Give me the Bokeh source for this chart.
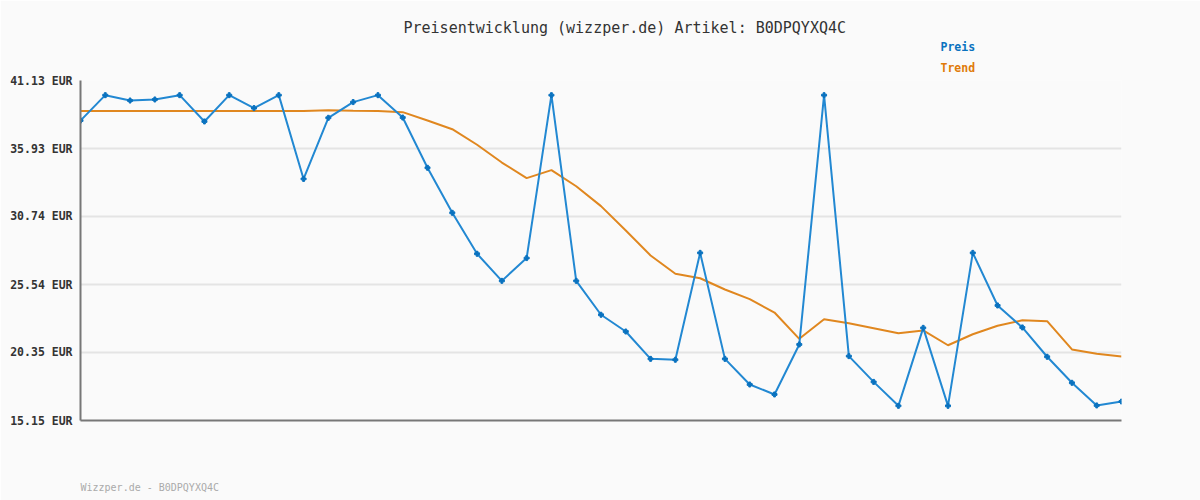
from bokeh.plotting import figure
from bokeh.models import FixedTicker, Range1d, Title
from bokeh.embed import file_html
from bokeh.resources import INLINE

title_text = "Preisentwicklung (wizzper.de) Artikel: B0DPQYXQ4C"
footer_text = "Wizzper.de - B0DPQYXQ4C"
series_names = ["Preis", "Trend"]

preis = [38.07, 40.01, 39.60, 39.68, 40.01, 38.00, 40.01, 39.02, 40.01, 33.61,
         38.28, 39.48, 40.01, 38.30, 34.46, 31.02, 27.89, 25.82, 27.56, 40.01,
         25.82, 23.23, 21.95, 19.86, 19.79, 27.96, 19.86, 17.90, 17.14, 20.96,
         40.01, 20.07, 18.10, 16.27, 22.23, 16.27, 27.96, 23.94, 22.26, 20.02,
         18.03, 16.30, 16.60]
trend = [38.79, 38.79, 38.79, 38.79, 38.79, 38.79, 38.79, 38.79, 38.79, 38.79,
         38.85, 38.82, 38.80, 38.71, 38.07, 37.41, 36.22, 34.86, 33.67, 34.28,
         33.05, 31.53, 29.67, 27.76, 26.36, 26.02, 25.16, 24.42, 23.40, 21.39,
         22.89, 22.58, 22.20, 21.82, 22.03, 20.90, 21.74, 22.39, 22.81, 22.74,
         20.58, 20.25, 20.04]
x_idx = list(range(len(preis)))
y_ticks = [15.15, 20.35, 25.54, 30.74, 35.93, 41.13]
y_tick_labels = ["15.15 EUR", "20.35 EUR", "25.54 EUR", "30.74 EUR", "35.93 EUR", "41.13 EUR"]

BG = "#fafafa"
BLUE = "#2288d2"
BLUE_DARK = "#0a72bf"
ORANGE = "#e0871f"
ORANGE_TXT = "#e07b0a"
MONO = "DejaVu Sans Mono"

p = figure(width=1200, height=500, output_backend="svg", toolbar_location=None,
           x_range=Range1d(0, len(preis) - 1), y_range=Range1d(y_ticks[0], y_ticks[-1]),
           min_border_left=80, min_border_right=79, min_border_top=80, min_border_bottom=80)
p.background_fill_color = BG
p.border_fill_color = BG
p.outline_line_color = None

p.xgrid.visible = False
p.ygrid.ticker = FixedTicker(ticks=y_ticks)
p.ygrid.grid_line_color = "#e4e4e4"
p.ygrid.grid_line_width = 2

p.yaxis.ticker = FixedTicker(ticks=y_ticks)
p.yaxis.major_label_overrides = {t: l for t, l in zip(y_ticks, y_tick_labels)}
p.yaxis.axis_line_color = "#777777"
p.yaxis.axis_line_width = 2
p.yaxis.major_tick_line_color = None
p.yaxis.major_tick_out = 0
p.yaxis.major_tick_in = 0
p.yaxis.minor_tick_line_color = None
p.yaxis.major_label_standoff = 8
p.yaxis.major_label_text_font = MONO
p.yaxis.major_label_text_font_style = "bold"
p.yaxis.major_label_text_font_size = "11.5px"
p.yaxis.major_label_text_color = "#333333"

p.xaxis.ticker = FixedTicker(ticks=[])
p.xaxis.axis_line_color = "#777777"
p.xaxis.axis_line_width = 2
p.xaxis.major_tick_line_color = None
p.xaxis.minor_tick_line_color = None
p.xaxis.major_tick_in = 0
p.xaxis.major_tick_out = 0
p.xaxis.major_label_standoff = 0

p.line(x_idx, trend, line_color=ORANGE, line_width=2)
p.line(x_idx, preis, line_color=BLUE, line_width=2)
p.scatter(x_idx, preis, marker="plus", size=5, fill_color=BLUE_DARK, line_color=BLUE_DARK)

# panels above the frame, nearest first
p.add_layout(Title(text=series_names[1], align="left", offset=860, standoff=10,
                   vertical_align="middle", text_font=MONO, text_font_size="11.5px",
                   text_font_style="bold", text_color=ORANGE_TXT), "above")
p.add_layout(Title(text=series_names[0], align="left", offset=860, standoff=0,
                   vertical_align="middle", text_font=MONO, text_font_size="11.5px",
                   text_font_style="bold", text_color=BLUE_DARK), "above")
p.add_layout(Title(text=title_text, align="left", offset=323, standoff=1,
                   vertical_align="middle", text_font=MONO, text_font_size="15px",
                   text_font_style="normal", text_color="#333333"), "above")
# spacer panel below the axis, then the footer
p.add_layout(Title(text=" ", align="left", offset=0, standoff=51,
                   vertical_align="middle", text_font=MONO, text_font_size="1px",
                   text_color=BG), "below")
p.add_layout(Title(text=footer_text, align="left", offset=0, standoff=12,
                   vertical_align="middle", text_font=MONO, text_font_size="10px",
                   text_font_style="normal", text_color="#aaaaaa"), "below")

open("out.html", "w").write(file_html(p, INLINE))
